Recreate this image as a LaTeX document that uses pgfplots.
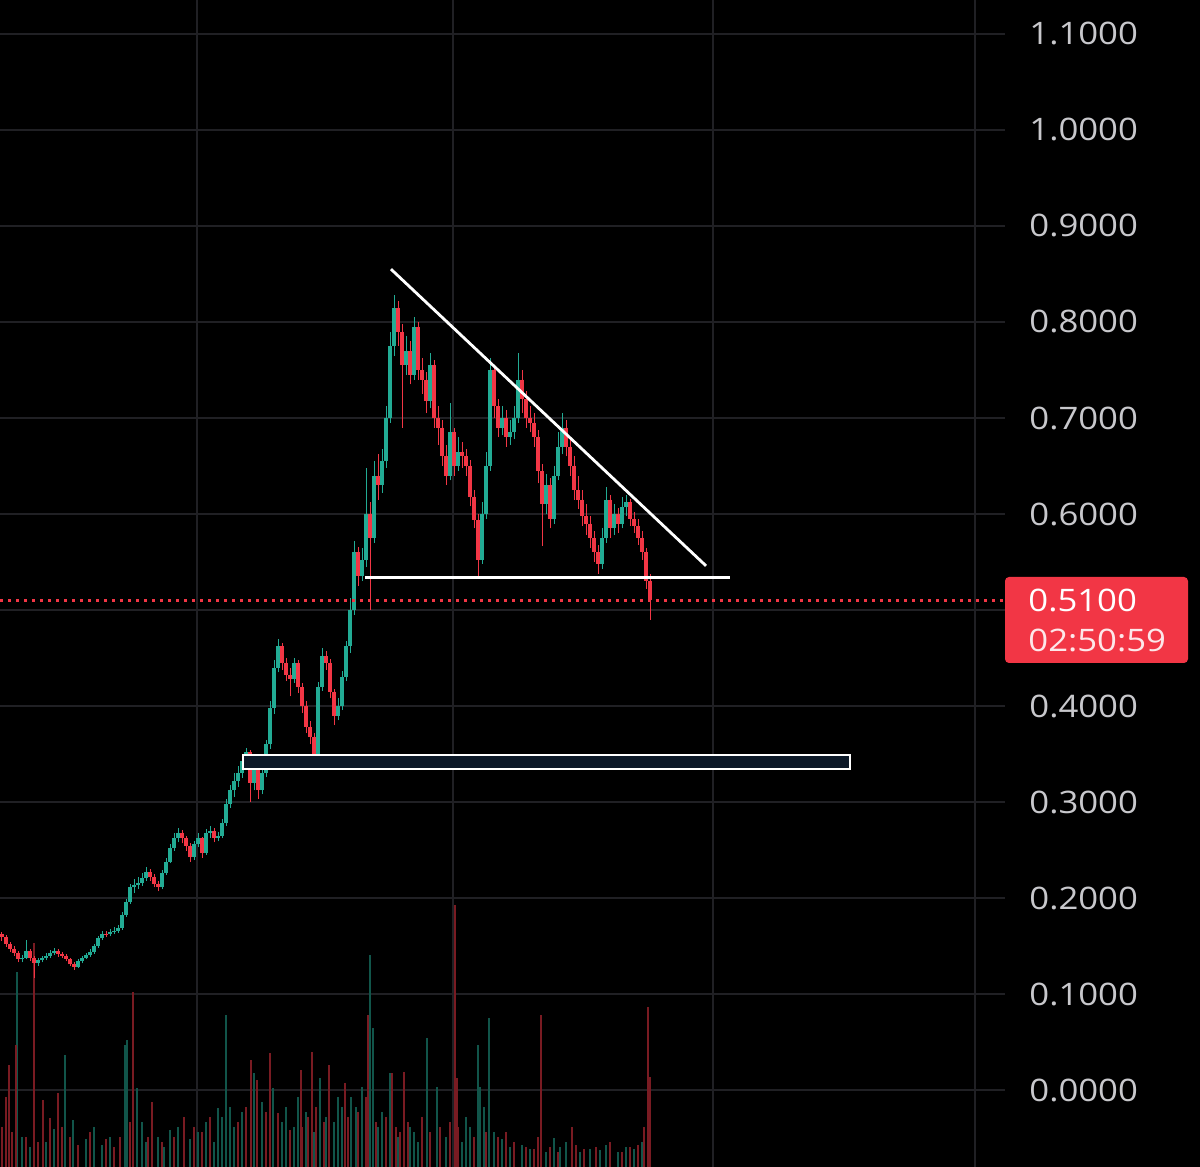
\documentclass[border=0pt]{standalone}
\usepackage{fontspec}
\setmainfont{Open Sans}
\newfontfamily\lblfont[FakeStretch=1.12]{Open Sans}
\usepackage{pgfplots}
\pgfplotsset{compat=1.18}
\usepackage{pgfplotstable}
\definecolor{cup}{RGB}{34,171,148}
\definecolor{cdn}{RGB}{242,54,69}
\definecolor{grd}{RGB}{32,32,36}
\definecolor{lbl}{RGB}{200,200,204}
\definecolor{navy}{RGB}{12,25,40}

\pgfplotstableread{
x o c h l
2 162 159 165 155
6 159 152 161 149
10 152 147 154 144
14 147 143 150 140
18 143 136 145 133
22 136 138 141 133
26 138 145 156 136
30 145 137 147 134
34 137 132 140 117
38 132 135 138 129
42 135 137 140 133
46 137 140 143 135
50 140 143 146 138
54 143 145 148 141
58 145 142 147 139
62 142 140 144 137
66 140 136 142 134
70 136 131 138 129
74 131 128 133 125
78 128 134 136 127
82 134 138 140 132
86 138 141 143 136
90 141 144 147 139
94 144 150 152 142
98 150 158 160 148
102 158 163 166 156
106 163 162 166 159
110 162 165 168 160
114 165 166 170 162
118 166 169 172 164
122 169 182 185 167
126 182 196 199 180
130 196 211 215 194
134 211 214 220 205
138 214 216 222 209
142 216 221 226 213
146 221 227 232 218
150 227 222 230 218
154 222 215 225 211
158 215 211 218 207
162 211 226 229 209
166 226 238 242 224
170 238 252 256 236
174 252 262 268 249
178 262 268 273 258
182 268 262 271 257
186 262 254 265 249
190 254 243 257 238
194 243 256 259 240
198 256 262 268 253
202 262 247 264 242
206 247 268 272 245
210 268 270 275 263
214 270 262 273 258
218 262 265 269 259
222 265 278 282 262
226 278 298 303 275
230 298 312 318 294
234 312 322 330 305
238 322 330 338 316
242 330 343 350 325
246 343 352 356 338
250 352 320 354 300
254 320 338 345 312
258 338 312 342 303
262 312 330 336 308
266 330 360 365 326
270 360 398 405 355
274 398 440 448 392
278 440 462 470 435
282 462 445 466 438
286 445 432 450 426
290 432 428 440 410
294 428 445 450 424
298 445 420 448 414
302 420 400 424 393
306 400 378 405 372
310 378 368 384 360
314 368 345 372 340
318 345 420 425 342
322 420 452 460 416
326 452 445 457 438
330 445 415 449 408
334 415 390 418 380
338 390 400 408 385
342 400 430 436 396
346 430 462 468 426
350 462 500 512 455
354 500 560 572 495
358 560 535 566 525
362 535 552 565 530
366 552 600 648 545
370 600 575 612 500
374 575 640 655 570
378 640 630 662 615
382 630 655 668 622
386 655 700 712 648
390 700 775 790 695
394 775 815 828 765
398 815 790 822 775
402 790 755 798 690
406 755 770 785 745
410 770 745 780 735
414 745 795 805 740
418 795 750 800 740
422 750 740 762 725
426 740 718 748 705
430 718 755 768 710
434 755 700 760 690
438 700 690 712 672
442 690 660 698 650
446 660 640 672 630
450 640 685 716 635
454 685 650 690 640
458 650 665 680 645
462 665 660 675 648
466 660 650 668 640
470 650 618 656 608
474 618 594 625 585
478 594 552 600 535
482 552 600 612 548
486 600 650 665 595
490 650 750 763 645
494 750 712 755 700
498 712 690 720 680
502 690 700 712 682
506 700 680 708 670
510 680 685 698 672
514 685 700 712 678
518 700 740 768 695
522 740 720 750 705
526 720 700 728 690
530 700 695 712 685
534 695 680 705 670
538 680 645 688 632
542 645 610 652 567
546 610 630 642 600
550 630 595 638 585
554 595 640 650 590
558 640 670 685 635
562 670 690 705 662
566 690 670 698 660
570 670 650 680 640
574 650 625 660 615
578 625 615 640 605
582 615 598 625 588
586 598 590 610 578
590 590 575 598 565
594 575 560 582 550
598 560 548 568 538
602 548 575 585 543
606 575 615 628 570
610 615 585 620 575
614 585 600 610 578
618 600 590 606 580
622 590 607 618 585
626 607 612 620 598
630 612 595 616 588
634 595 588 602 580
638 588 575 595 568
642 575 560 582 552
646 560 530 565 522
650 530 510 538 490
}\candles

\pgfplotstableread{
x v
17 195
65 112
73 47
125 122
127 127
137 79
170 37
218 59
226 152
254 94
273 79
320 89
338 70
351 70
370 212
373 139
390 94
427 129
437 80
478 122
480 80
489 149
554 29
600 17
22 30
30 20
46 25
54 38
86 28
94 40
102 22
110 30
142 45
146 25
158 30
164 20
178 40
190 28
198 35
206 45
214 25
222 50
230 60
234 40
242 55
262 65
282 45
286 60
294 40
298 70
306 55
314 35
326 50
334 45
342 60
356 60
362 80
378 40
382 55
398 30
410 40
414 35
418 25
446 30
462 25
466 50
470 40
484 60
494 35
502 28
510 20
522 22
530 18
546 15
560 20
566 25
580 15
590 18
606 22
618 15
626 20
634 18
642 25
}\volup

\pgfplotstableread{
x v
6 70
9 102
16 122
34 224
43 67
50 49
58 74
133 175
152 65
184 50
251 107
257 87
270 114
278 54
290 37
301 97
312 115
329 102
345 84
368 152
392 94
404 95
455 262
457 89
541 152
572 40
648 160
650 90
2 40
12 35
26 30
38 25
62 40
70 30
78 22
90 35
106 28
114 20
120 30
130 45
148 30
162 25
174 30
194 40
202 35
210 50
238 45
246 60
266 55
302 40
308 50
316 60
324 45
348 50
358 55
366 70
376 45
386 50
396 40
400 35
408 45
422 50
430 35
440 40
450 45
458 40
474 30
486 35
498 30
506 35
514 25
526 20
534 18
538 30
550 20
558 15
576 22
584 18
596 20
610 25
622 15
630 20
638 22
644 40
}\voldn

\begin{document}
\begin{tikzpicture}
\useasboundingbox (0pt,0pt) rectangle (600pt,583.5pt);
\fill[black] (0pt,0pt) rectangle (600pt,583.5pt);
\begin{axis}[
  at={(0pt,0pt)}, anchor=south west,
  scale only axis, width=502.5pt, height=583.5pt,
  xmin=0, xmax=1005, ymin=-0.0802, ymax=1.1354,
  axis line style={draw=none},
  major tick length=0pt,
  xtick=\empty,
  ytick={0,0.1,0.2,0.3,0.4,0.5,0.6,0.7,0.8,0.9,1.0,1.1},
  yticklabels={0.0000,0.1000,0.2000,0.3000,0.4000,,0.6000,0.7000,0.8000,0.9000,1.0000,1.1000},
  yticklabel pos=right,
  yticklabel style={anchor=west, inner sep=0pt, xshift=12pt, text=lbl,
    font=\lblfont\fontsize{15.5}{16}\selectfont},
  ymajorgrids, grid style={grd, line width=0.7pt},
  clip=true,
]
% vertical grid lines
\addplot[grd, line width=0.7pt, forget plot] coordinates {(197,-0.1) (197,1.2)};
\addplot[grd, line width=0.7pt, forget plot] coordinates {(453,-0.1) (453,1.2)};
\addplot[grd, line width=0.7pt, forget plot] coordinates {(713,-0.1) (713,1.2)};
\addplot[grd, line width=0.7pt, forget plot] coordinates {(975,-0.1) (975,1.2)};
% volume
\addplot[cup!50!black, line width=0.55pt, line cap=butt, mark=none,
  quiver={u=0, v={\thisrow{v}/960+0.0198}}]
  table[x=x, y expr={-0.1}] {\volup};
\addplot[cdn!50!black, line width=0.55pt, line cap=butt, mark=none,
  quiver={u=0, v={\thisrow{v}/960+0.0198}}]
  table[x=x, y expr={-0.1}] {\voldn};
% wicks
\addplot[cup, line width=0.5pt, line cap=butt, mark=none,
  restrict expr to domain={\thisrow{c}-\thisrow{o}}{0:10000},
  quiver={u=0, v={(\thisrow{h}-\thisrow{l})/1000}}]
  table[x=x, y expr={\thisrow{l}/1000}] {\candles};
\addplot[cdn, line width=0.5pt, line cap=butt, mark=none,
  restrict expr to domain={\thisrow{c}-\thisrow{o}}{-10000:-0.0001},
  quiver={u=0, v={(\thisrow{h}-\thisrow{l})/1000}}]
  table[x=x, y expr={\thisrow{l}/1000}] {\candles};
% bodies
\addplot[cup, line width=1.6pt, line cap=butt, mark=none,
  restrict expr to domain={\thisrow{c}-\thisrow{o}}{0:10000},
  quiver={u=0, v={max(\thisrow{c}-\thisrow{o},1)/1000}}]
  table[x=x, y expr={\thisrow{o}/1000}] {\candles};
\addplot[cdn, line width=1.6pt, line cap=butt, mark=none,
  restrict expr to domain={\thisrow{c}-\thisrow{o}}{-10000:-0.0001},
  quiver={u=0, v={(\thisrow{c}-\thisrow{o})/1000}}]
  table[x=x, y expr={\thisrow{o}/1000}] {\candles};
% annotations
\draw[white, line width=1.4pt, fill=navy] (axis cs:243,0.3344) rectangle (axis cs:850,0.349);
\addplot[white, line width=1.4pt] coordinates {(391,0.855) (706,0.546)};
\addplot[white, line width=1.4pt] coordinates {(365,0.534) (730,0.534)};
\addplot[cdn, line width=1.5pt, dash pattern=on 1.5pt off 2.5pt] coordinates {(0,0.5096) (1005,0.5096)};
\end{axis}
\fill[cdn, rounded corners=2pt] (502.5pt,252pt) rectangle (594pt,295pt);
\node[anchor=base west, inner sep=0pt, text=white, font=\lblfont\fontsize{15.5}{16}\selectfont] at (514pt,277.5pt) {0.5100};
\node[anchor=base west, inner sep=0pt, text=white!88!cdn, font=\lblfont\fontsize{15.5}{16}\selectfont] at (514pt,257.5pt) {02:50:59};
\end{tikzpicture}
\end{document}
